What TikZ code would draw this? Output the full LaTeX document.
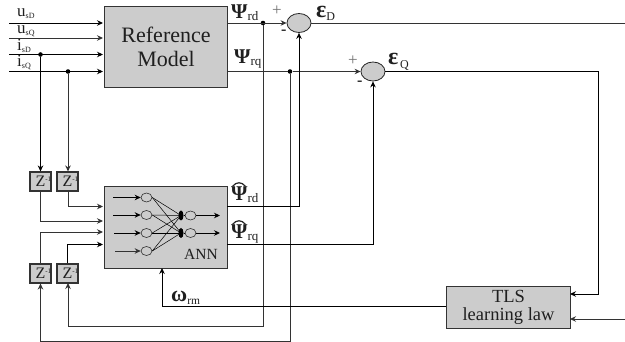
\documentclass[tikz,border=0pt]{standalone}
\usepackage{fontspec}
\setmainfont{Liberation Serif}
\usetikzlibrary{arrows.meta,calc,shapes.geometric}
\definecolor{fillg}{gray}{0.8}
\definecolor{lineg}{gray}{0.2}
\definecolor{txt}{gray}{0.12}
\newcommand{\fs}[1]{\fontsize{#1}{#1}\selectfont}
\newcommand{\lab}[2]{{\fs{17}#1}{\fs{8}\raisebox{-1.5pt}{#2}}}
\newcommand{\gr}[2]{{\fs{21}\bfseries #1}{\fs{13}\raisebox{-1.5pt}{#2}}}
\newcommand{\zinv}{Z\rlap{\raisebox{5pt}{\fs{7}-1}}\hspace{3pt}}
\tikzset{
  x=1pt,y=-1pt,
  blockbox/.style={draw=lineg,line width=1.1pt,fill=fillg,inner sep=0,anchor=north west,align=center,text=txt},
  delaybox/.style={draw=lineg,line width=1.1pt,fill=fillg,inner sep=0,minimum width=21pt,minimum height=19pt,text=txt,font=\fs{16}},
  sumnode/.style={draw=black!85,line width=.8pt,fill=fillg,ellipse,inner sep=0,minimum width=24pt,minimum height=19pt},
  neuron/.style={draw=black!85,line width=.6pt,fill=fillg,ellipse,inner sep=0,minimum width=11pt,minimum height=9pt},
  hub/.style={fill=black,ellipse,inner sep=0,minimum width=5pt,minimum height=10pt},
  junction/.style={fill=black,circle,inner sep=0,minimum size=4.6pt},
  dk/.style={draw=black,line width=.9pt},
  gy/.style={draw=lineg,line width=.95pt},
  tip/.style={-{Stealth[length=6pt,width=5.5pt]}},
  txtn/.style={inner sep=0,text=txt,anchor=base west},
  syn/.style={draw=black,line width=.5pt},
  hat/.style={line width=1.2pt,draw=black!85},
}
\begin{document}
\begin{tikzpicture}
\useasboundingbox (0,0) rectangle (625,342);
\fill[white] (0,0) rectangle (625,342);
% blocks
\node[blockbox,minimum width=123pt,minimum height=81pt,font=\fs{22},text depth=0pt] (rm) at (104,6) {Reference\\[2pt]Model};
\node[blockbox,minimum width=123pt,minimum height=82pt] (ann) at (104,186) {};
\node[txtn,font=\fs{15.5}] (annl) at (184,260) {ANN};
\node[blockbox,minimum width=124pt,minimum height=42pt,font=\fs{18.5}] (tls) at (446,286) {TLS\\learning law};
% delays
\node[delaybox] (z1) at (40.5,181.5) {\zinv};
\node[delaybox] (z2) at (67.5,181.5) {\zinv};
\node[delaybox] (z3) at (40.5,273.5) {\zinv};
\node[delaybox] (z4) at (67.5,273.5) {\zinv};
% summers
\node[sumnode] (s1) at (299,23) {};
\node[sumnode] (s2) at (373,71.5) {};
% free ends and corners
\coordinate (iu1) at (9,23); \coordinate (iu2) at (9,38);
\coordinate (ii1) at (9,54.5); \coordinate (ii2) at (9,71.5);
\coordinate (rmu1) at (103,23); \coordinate (rmu2) at (103,38);
\coordinate (rmi1) at (103,54.5); \coordinate (rmi2) at (103,71.5);
\coordinate (outD) at (625,23);
\coordinate (inT) at (625,319);
\coordinate (tlsE) at (570,319);
\coordinate (tlsQ) at (570,294);
\coordinate (tlsW) at (446,306);
\coordinate (annS) at (162,268);
\coordinate (a1) at (103,206.5); \coordinate (a2) at (103,221);
\coordinate (a3) at (103,232); \coordinate (a4) at (103,244.5);
\coordinate (ao1) at (227,206.5); \coordinate (ao2) at (227,244.5);
\coordinate (rm1) at (227,23); \coordinate (rm2) at (227,71.5);
% junctions
\node[junction] (j1) at (40.5,54.5) {};
\node[junction] (j2) at (68,71.5) {};
\node[junction] (j3) at (263,23) {};
\node[junction] (j4) at (290,71.5) {};
% inputs
\draw[dk,tip] (iu1) -- (rmu1);
\draw[gy,tip] (iu2) -- (rmu2);
\draw[dk,tip] (ii1) -- (rmi1);
\draw[dk,tip] (ii2) -- (rmi2);
% to delays
\draw[dk,tip] (j1) -- (z1.north);
\draw[gy,tip] (j2) -- (j2 |- z2.north);
\draw[gy,tip] (j2 |- z2.south) |- (a1);
\draw[gy,tip] (z1.south) |- (a2);
\draw[gy,tip] (z3.north) |- (a3);
\draw[dk,tip] (z4.north) |- (a4);
% outputs of reference model
\draw[gy,tip] (rm1) -- (s1.west);
\draw[gy] (rm2) -- (j4);
\draw[gy,tip] (j4) -- (s2.west);
% feedback
\draw[gy,tip] (j3) -- (263,326) -- (68,326) -- (68,283);
\draw[gy,tip] (j4) -- (290,341) -- (40.5,341) -- (z3.south);
% ANN outputs
\draw[dk,tip] (ao1) -| (s1.south);
\draw[dk,tip] (ao2) -| (s2.south);
% errors
\draw[gy] (s1.east) -- (outD);
\draw[dk,tip] (s2.east) -- (598,71.5) -- (598,294) -- (tlsQ);
\draw[gy,tip] (inT) -- (tlsE);
\draw[dk,tip] (tlsW) -| (annS);
% ANN internals
\foreach \n/\y in {1/197.5,2/215,3/233,4/251}{
  \node[neuron] (n\n) at (146.5,\y) {};
}
\node[neuron] (m1) at (190.5,215.5) {};
\node[neuron] (m2) at (190.5,233) {};
\node[hub] (h1) at (181,215.5) {};
\node[hub] (h2) at (181,233) {};
\foreach \n in {1,2,3,4}{ \foreach \h in {1,2}{ \draw[syn] (n\n.east) -- (h\h.center); } }
\coordinate (e1) at (113,197.5); \coordinate (e2) at (113,215);
\coordinate (e3) at (114,233); \coordinate (e4) at (115,251);
\coordinate (f1) at (220,215.5); \coordinate (f2) at (220,233);
\draw[dk,tip] (e1) -- (n1.west);
\draw[dk,tip] (e2) -- (n2.west);
\draw[dk,tip] (e3) -- (n3.west);
\draw[gy,tip] (e4) -- (n4.west);
\draw[dk,tip] (m1.east) -- (f1);
\draw[dk,tip] (m2.east) -- (f2);
\draw[syn] (h1.east) -- (m1.west);
\draw[syn] (h2.east) -- (m2.west);
% labels
\node[txtn] (lu1) at (17,17) {\lab{u}{sD}};
\node[txtn] (lu2) at (17,34) {\lab{u}{sQ}};
\node[txtn] (li1) at (17,51) {\lab{i}{sD}};
\node[txtn] (li2) at (17,67) {\lab{i}{sQ}};
\node[txtn] (p1) at (231,19) {\gr{Ψ}{rd}};
\node[txtn] (p2) at (234,64) {\gr{Ψ}{rq}};
\node[txtn] (p3) at (231,201) {\gr{Ψ}{rd}};
\node[txtn] (p4) at (231,239) {\gr{Ψ}{rq}};
\draw[hat] (232.5,186.5) .. controls (236,181.5) and (242,181.5) .. (245.5,186.5);
\draw[hat] (232.5,224.5) .. controls (236,219.5) and (242,219.5) .. (245.5,224.5);
\node[txtn] (w) at (171,302) {{\fs{22}\bfseries ω}{\fs{11.5}\raisebox{-2pt}{rm}}};
\node[txtn] (eD) at (316,17.5) {{\fs{24}\bfseries ε}{\fs{12}\raisebox{-3pt}{D}}};
\node[txtn] (eQ) at (388,64.5) {{\fs{24}\bfseries ε}\,{\fs{12}\raisebox{-4pt}{Q}}};
\node[txtn,font=\fs{17},text=black!55] (pl1) at (272,16) {+};
\node[txtn,font=\fs{17},text=black!55] (pl2) at (348,65.5) {+};
\node[txtn,font=\fs{16}\bfseries] (mi1) at (281,35) {-};
\node[txtn,font=\fs{16}\bfseries] (mi2) at (357,86) {-};
\end{tikzpicture}
\end{document}
